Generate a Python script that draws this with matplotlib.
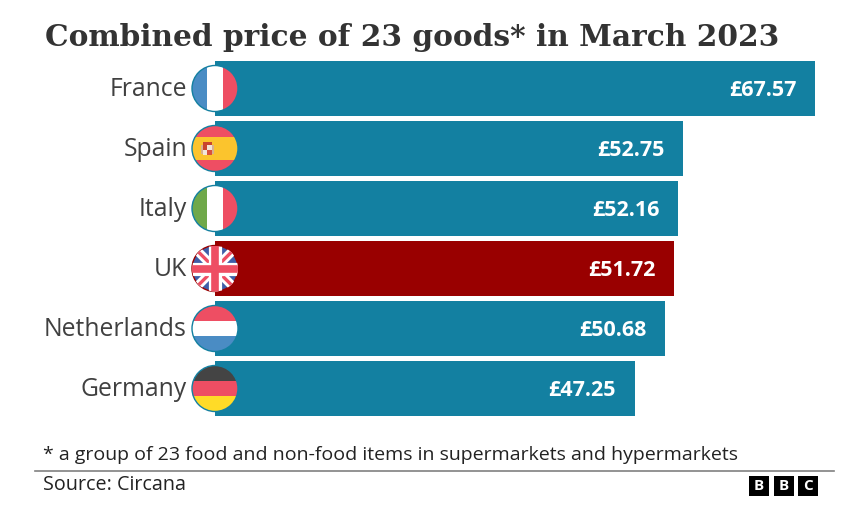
import matplotlib
matplotlib.use('Agg')
import matplotlib.pyplot as plt
from matplotlib.patches import Circle, Rectangle

countries = ['France', 'Spain', 'Italy', 'UK', 'Netherlands', 'Germany']
prices = [67.57, 52.75, 52.16, 51.72, 50.68, 47.25]

BLUE = '#1380A1'
RED = '#990000'
TEXT = '#404040'

W, H = 850, 512
plt.rcParams['font.family'] = ['Open Sans', 'DejaVu Sans']

fig = plt.figure(figsize=(W / 100, H / 100), dpi=100, facecolor='white')

# bars get their own axes so the x scale is real pounds
ax = fig.add_axes([215 / W, 1 - 418.5 / H, 600 / W, 360 / H])
ax.set_xlim(0, 67.57)
ax.set_ylim(5.5, -0.5)
ax.axis('off')
bar_colors = [RED if c == 'UK' else BLUE for c in countries]
ax.barh(range(len(prices)), prices, height=55 / 60, color=bar_colors)
for i, p in enumerate(prices):
    ax.annotate(f'£{p:.2f}', (p, i), xytext=(-19, -1.5), textcoords='offset pixels',
                ha='right', va='center', color='white', fontsize=15.5, fontweight='bold')

# overlay in pixel coordinates for text and flags
ov = fig.add_axes([0, 0, 1, 1])
ov.set_xlim(0, W)
ov.set_ylim(H, 0)
ov.axis('off')
ov.patch.set_alpha(0)


def stripes(cx, cy, r, colors, sizes, vertical):
    clip = Circle((cx, cy), r, transform=ov.transData)
    start = -r
    for col, size in zip(colors, sizes):
        if vertical:
            patch = Rectangle((cx + start, cy - r), size * 2 * r, 2 * r, color=col, lw=0)
        else:
            patch = Rectangle((cx - r, cy + start), 2 * r, size * 2 * r, color=col, lw=0)
        ov.add_patch(patch)
        patch.set_clip_path(clip)
        start += size * 2 * r


def union_jack(cx, cy, r):
    clip = Circle((cx, cy), r, transform=ov.transData)
    ov.add_patch(Circle((cx, cy), r, color='#3F5EA8', lw=0))
    parts = []
    for sx in (-1, 1):
        parts += ov.plot([cx - sx * r, cx + sx * r], [cy - r, cy + r], color='white', lw=6.5)
        parts += ov.plot([cx - sx * r, cx + sx * r], [cy - r, cy + r], color='#EE4E63', lw=2.4)
    parts += ov.plot([cx - r, cx + r], [cy, cy], color='white', lw=9.5)
    parts += ov.plot([cx, cx], [cy - r, cy + r], color='white', lw=9.5)
    parts += ov.plot([cx - r, cx + r], [cy, cy], color='#EE4E63', lw=5.5)
    parts += ov.plot([cx, cx], [cy - r, cy + r], color='#EE4E63', lw=5.5)
    for part in parts:
        part.set_clip_path(clip)
        part.set_solid_capstyle('butt')


def spain_crest(cx, cy):
    # rough coat of arms on the yellow band
    ov.add_patch(Rectangle((cx - 14, cy - 4), 1.6, 9, color='#D9B08C', lw=0))
    ov.add_patch(Rectangle((cx - 3, cy - 4), 1.6, 9, color='#D9B08C', lw=0))
    ov.add_patch(Rectangle((cx - 12, cy - 7), 9, 3, color='#C8452F', lw=0))
    ov.add_patch(Rectangle((cx - 12, cy - 4), 4.5, 5, color='#C8452F', lw=0))
    ov.add_patch(Rectangle((cx - 7.5, cy - 4), 4.5, 5, color='#F2E6D8', lw=0))
    ov.add_patch(Rectangle((cx - 12, cy + 1), 4.5, 5, color='#F2E6D8', lw=0))
    ov.add_patch(Rectangle((cx - 7.5, cy + 1), 4.5, 5, color='#D8503C', lw=0))


for i, name in enumerate(countries):
    cy = 88.5 + 60 * i
    cx, r = 215, 23
    ov.text(187, cy + 1.5, name, ha='right', va='center', color=TEXT, fontsize=17.8)
    if name == 'France':
        stripes(cx, cy, r, ['#4A8CC4', 'white', '#EE4E63'], [1 / 3, 1 / 3, 1 / 3], True)
    elif name == 'Spain':
        stripes(cx, cy, r, ['#EE4E63', '#FBC42D', '#EE4E63'], [0.25, 0.5, 0.25], False)
        spain_crest(cx, cy)
    elif name == 'Italy':
        stripes(cx, cy, r, ['#6FA84A', 'white', '#EE4E63'], [1 / 3, 1 / 3, 1 / 3], True)
    elif name == 'UK':
        union_jack(cx, cy, r)
    elif name == 'Netherlands':
        stripes(cx, cy, r, ['#EE4E63', 'white', '#4A8CC4'], [1 / 3, 1 / 3, 1 / 3], False)
    elif name == 'Germany':
        stripes(cx, cy, r, ['#444444', '#EE4E63', '#FFDB27'], [1 / 3, 1 / 3, 1 / 3], False)
    ring = RED if name == 'UK' else BLUE
    ov.add_patch(Circle((cx, cy), r, fill=False, edgecolor=ring, lw=1))

ov.text(45, 37, 'Combined price of 23 goods* in March 2023', ha='left', va='center',
        color='#333333', fontsize=21.35, fontweight='bold', family=['DejaVu Serif'])
ov.text(43, 455, '* a group of 23 food and non-food items in supermarkets and hypermarkets',
        ha='left', va='center', color='#222222', fontsize=14)
ov.plot([35, 834], [471, 471], color='#808080', lw=1.2)
ov.text(43, 485.5, 'Source: Circana', ha='left', va='center', color='#222222', fontsize=14.2)

# BBC blocks
for x0, letter in zip([749, 774, 798], 'BBC'):
    ov.add_patch(Rectangle((x0, 476), 20, 20, color='black', lw=0))
    ov.text(x0 + 10, 486.5, letter, ha='center', va='center', color='white',
            fontsize=11, fontweight='bold')

fig.savefig('out.png', dpi=100)
